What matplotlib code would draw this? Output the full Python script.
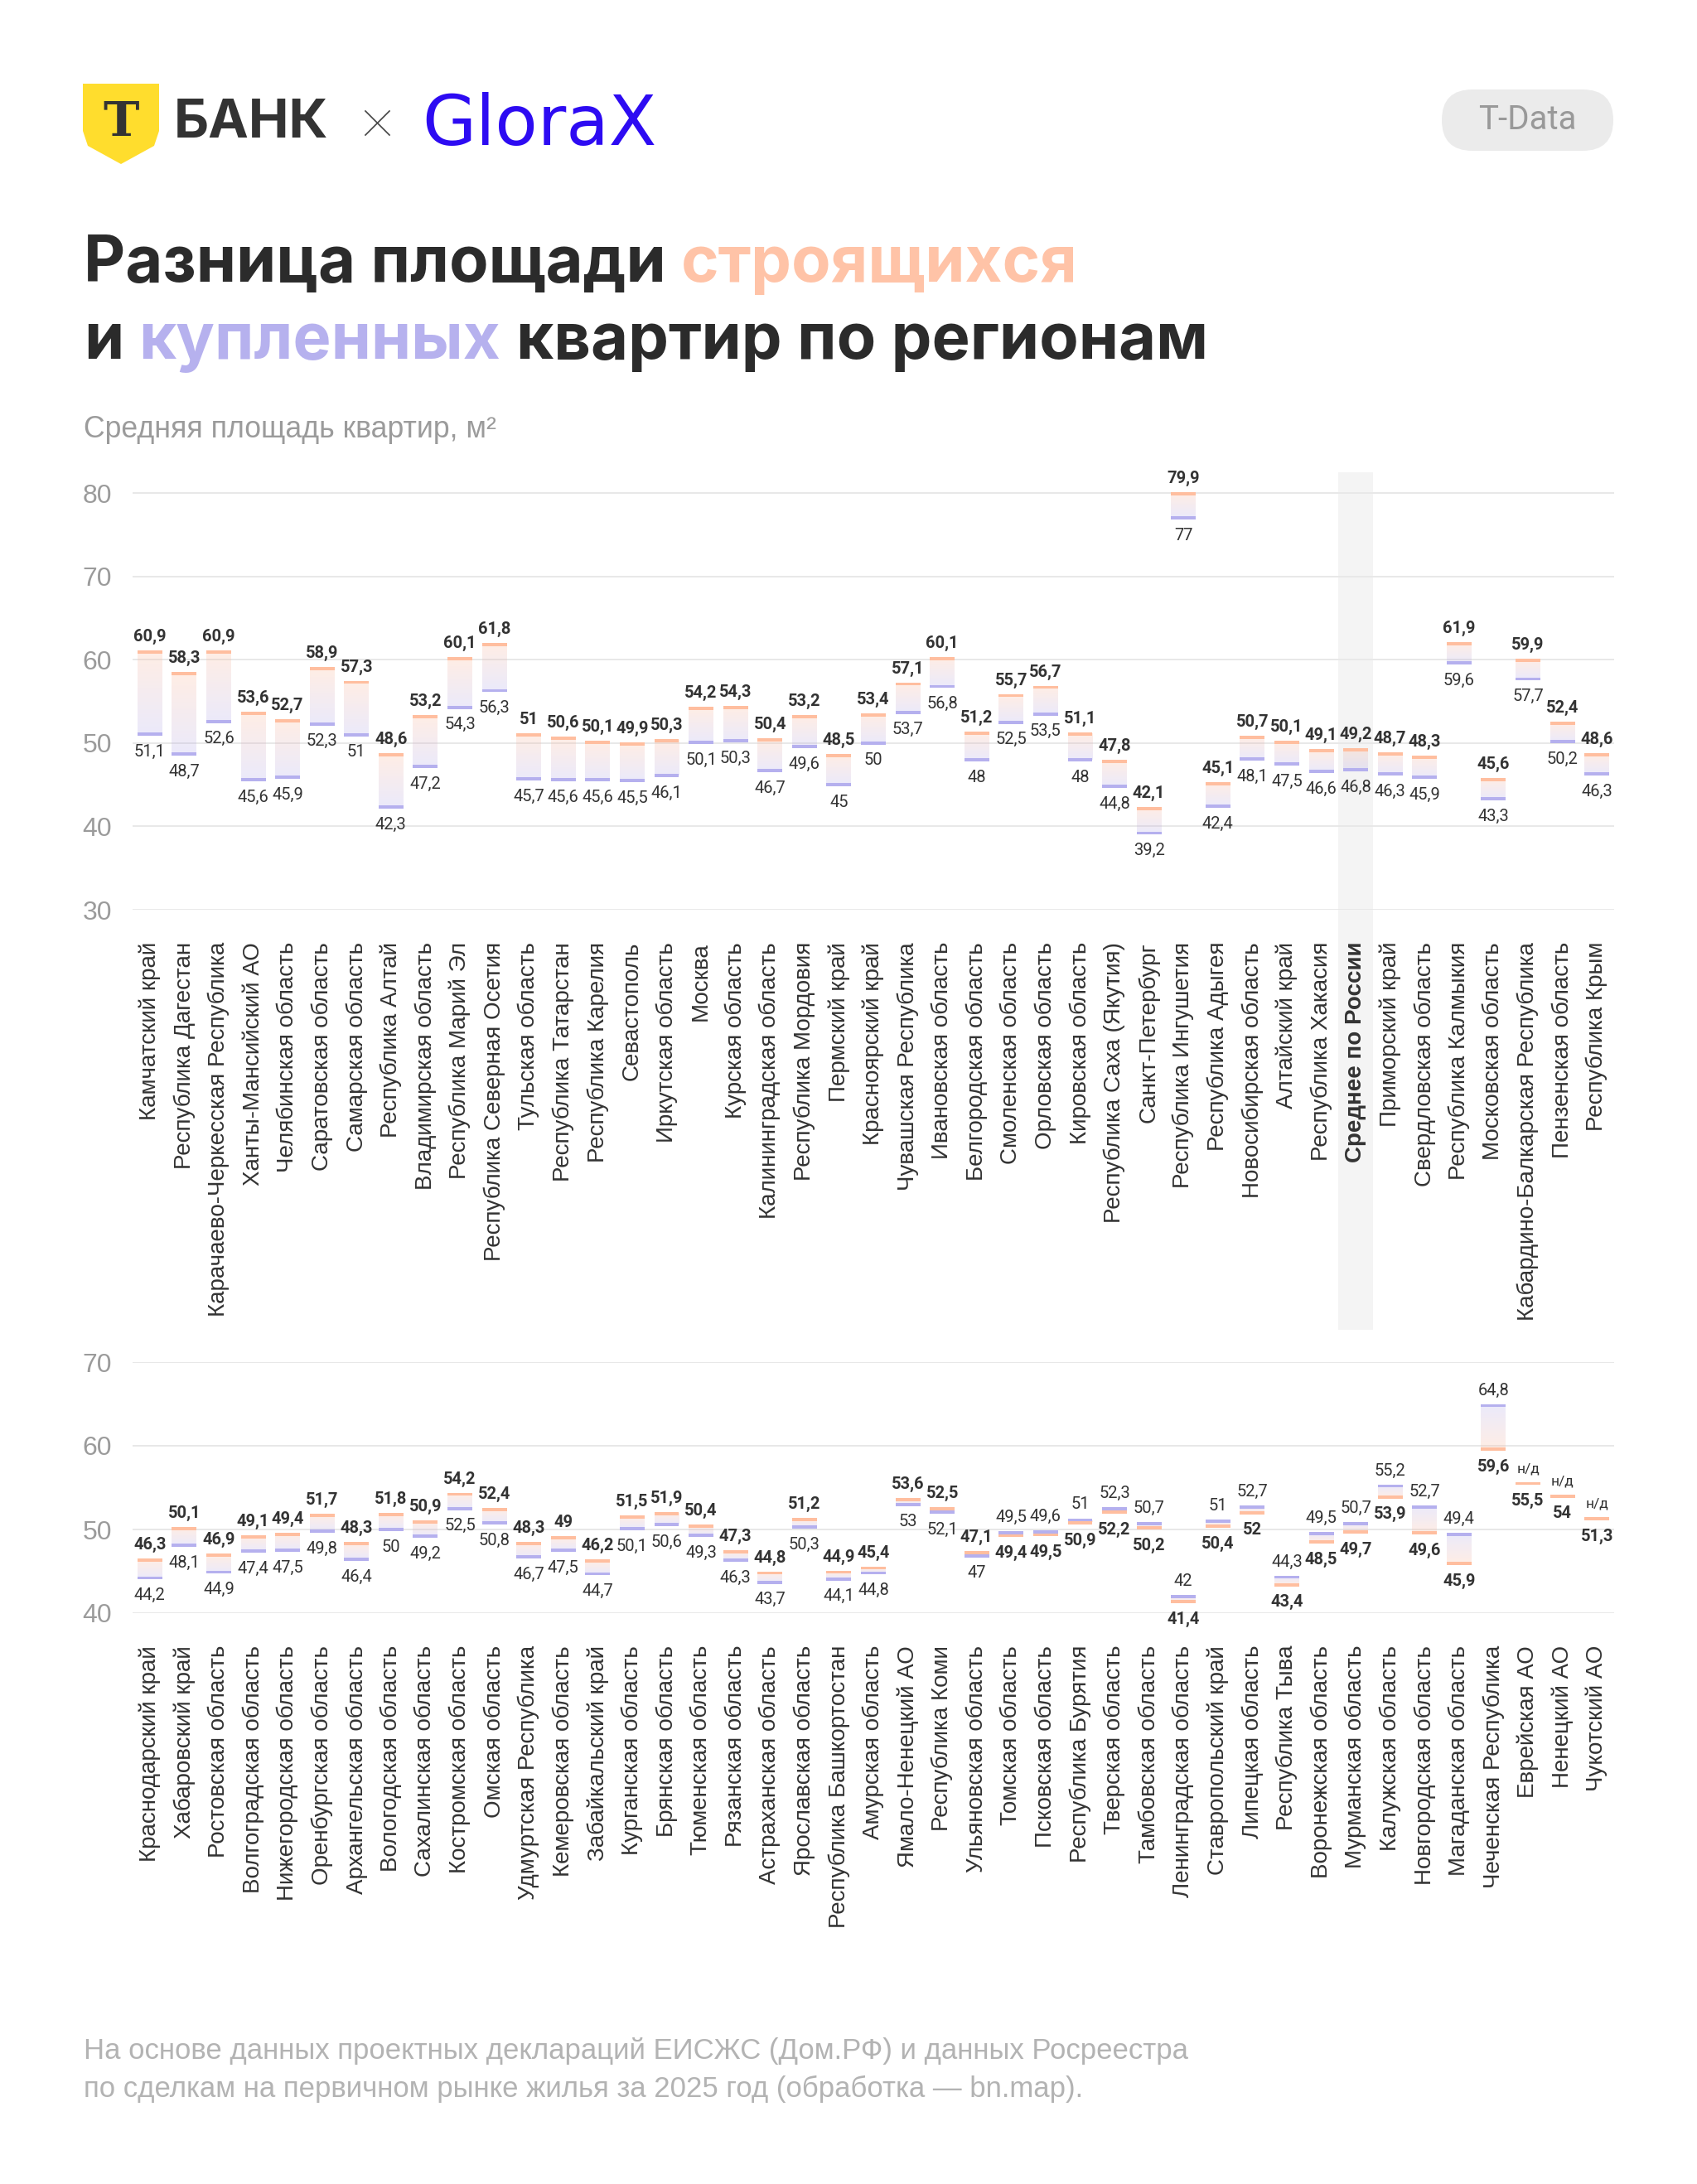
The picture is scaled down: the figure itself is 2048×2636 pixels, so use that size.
import numpy as np
import matplotlib
matplotlib.use("Agg")
import matplotlib.pyplot as plt
import matplotlib.colors as mcolors
import matplotlib.transforms as mtransforms
from matplotlib.patches import Rectangle, Polygon, FancyBboxPatch
from matplotlib.lines import Line2D

W, H, DPI = 2048, 2636, 100

top_regions = ["Камчатский край", "Республика Дагестан", "Карачаево-Черкесская Республика",
               "Ханты-Мансийский АО", "Челябинская область", "Саратовская область",
               "Самарская область", "Республика Алтай", "Владимирская область",
               "Республика Марий Эл", "Республика Северная Осетия", "Тульская область",
               "Республика Татарстан", "Республика Карелия", "Севастополь", "Иркутская область",
               "Москва", "Курская область", "Калининградская область", "Республика Мордовия",
               "Пермский край", "Красноярский край", "Чувашская Республика", "Ивановская область",
               "Белгородская область", "Смоленская область", "Орловская область",
               "Кировская область", "Республика Саха (Якутия)", "Санкт-Петербург",
               "Республика Ингушетия", "Республика Адыгея", "Новосибирская область",
               "Алтайский край", "Республика Хакасия", "Среднее по России", "Приморский край",
               "Свердловская область", "Республика Калмыкия", "Московская область",
               "Кабардино-Балкарская Республика", "Пензенская область", "Республика Крым"]
top_building = [60.9, 58.3, 60.9, 53.6, 52.7, 58.9, 57.3, 48.6, 53.2, 60.1, 61.8, 51, 50.6,
                50.1, 49.9, 50.3, 54.2, 54.3, 50.4, 53.2, 48.5, 53.4, 57.1, 60.1, 51.2, 55.7,
                56.7, 51.1, 47.8, 42.1, 79.9, 45.1, 50.7, 50.1, 49.1, 49.2, 48.7, 48.3, 61.9,
                45.6, 59.9, 52.4, 48.6]
top_bought = [51.1, 48.7, 52.6, 45.6, 45.9, 52.3, 51, 42.3, 47.2, 54.3, 56.3, 45.7, 45.6,
              45.6, 45.5, 46.1, 50.1, 50.3, 46.7, 49.6, 45, 50, 53.7, 56.8, 48, 52.5, 53.5,
              48, 44.8, 39.2, 77, 42.4, 48.1, 47.5, 46.6, 46.8, 46.3, 45.9, 59.6, 43.3, 57.7,
              50.2, 46.3]

bottom_regions = ["Краснодарский край", "Хабаровский край", "Ростовская область",
                  "Волгоградская область", "Нижегородская область", "Оренбургская область",
                  "Архангельская область", "Вологодская область", "Сахалинская область",
                  "Костромская область", "Омская область", "Удмуртская Республика",
                  "Кемеровская область", "Забайкальский край", "Курганская область",
                  "Брянская область", "Тюменская область", "Рязанская область",
                  "Астраханская область", "Ярославская область", "Республика Башкортостан",
                  "Амурская область", "Ямало-Ненецкий АО", "Республика Коми",
                  "Ульяновская область", "Томская область", "Псковская область",
                  "Республика Бурятия", "Тверская область", "Тамбовская область",
                  "Ленинградская область", "Ставропольский край", "Липецкая область",
                  "Республика Тыва", "Воронежская область", "Мурманская область",
                  "Калужская область", "Новгородская область", "Магаданская область",
                  "Чеченская Республика", "Еврейская АО", "Ненецкий АО", "Чукотский АО"]
bottom_building = [46.3, 50.1, 46.9, 49.1, 49.4, 51.7, 48.3, 51.8, 50.9, 54.2, 52.4, 48.3, 49,
                   46.2, 51.5, 51.9, 50.4, 47.3, 44.8, 51.2, 44.9, 45.4, 53.6, 52.5, 47.1, 49.4,
                   49.5, 50.9, 52.2, 50.2, 41.4, 50.4, 52, 43.4, 48.5, 49.7, 53.9, 49.6, 45.9,
                   59.6, 55.5, 54, 51.3]
bottom_bought = [44.2, 48.1, 44.9, 47.4, 47.5, 49.8, 46.4, 50, 49.2, 52.5, 50.8, 46.7, 47.5,
                 44.7, 50.1, 50.6, 49.3, 46.3, 43.7, 50.3, 44.1, 44.8, 53, 52.1, 47, 49.5,
                 49.6, 51, 52.3, 50.7, 42, 51, 52.7, 44.3, 49.5, 50.7, 55.2, 52.7, 49.4,
                 64.8, np.nan, np.nan, np.nan]

ORANGE = "#FFBE9F"
PURPLE = "#B5B0EE"
DARK = "#333333"
GREY = "#9B9B9B"
LABEL_FONT = "Liberation Sans"
NUM_FONT = "Roboto"
NUM_SIZE = 14.5

fig = plt.figure(figsize=(W / DPI, H / DPI), dpi=DPI)
fig.patch.set_facecolor("white")
# pixel coordinates with origin at the top-left corner
PX = mtransforms.Affine2D().scale(1, -1).translate(0, H).scale(1 / DPI) + fig.dpi_scale_trans


def fmt(v):
    return f"{v:g}".replace(".", ",")


def gradient(c_top, c_bot, n=64, alpha=0.27):
    a = np.array(mcolors.to_rgb(c_top))
    b = np.array(mcolors.to_rgb(c_bot))
    t = np.linspace(0, 1, n)[:, None]
    rgb = a * (1 - t) + b * t
    rgba = np.concatenate([rgb, np.full((n, 1), alpha)], axis=1)
    return rgba[:, None, :]


def add_axes_px(left, right, top, bottom):
    return fig.add_axes([left / W, 1 - bottom / H, (right - left) / W, (bottom - top) / H])


def draw_panel(ax, regions, building, bought, ylim, yticks):
    n = len(regions)
    w, cap = 0.72, 0.38
    for i in range(n):
        b, p = building[i], bought[i]
        if np.isnan(p):
            ax.add_patch(Rectangle((i - w / 2, b - cap / 2), w, cap, color=ORANGE, lw=0, zorder=3))
            ax.annotate("н/д", (i, b + cap / 2), xytext=(0, 8), textcoords="offset points",
                        ha="center", va="baseline", fontsize=12.5, color=DARK, family=NUM_FONT)
            ax.annotate(fmt(b), (i, b - cap / 2), xytext=(0, -7), textcoords="offset points",
                        ha="center", va="top", fontsize=NUM_SIZE, color=DARK, family=NUM_FONT,
                        fontweight="bold")
            continue
        hi, lo = max(b, p), min(b, p)
        up_col, lo_col = (ORANGE, PURPLE) if b >= p else (PURPLE, ORANGE)
        ax.imshow(gradient(up_col, lo_col), extent=(i - w / 2, i + w / 2, lo, hi),
                  aspect="auto", interpolation="bilinear", zorder=2)
        mid = (hi + lo) / 2
        up0 = max(hi - cap / 2, mid)
        lo1 = min(lo + cap / 2, mid)
        ax.add_patch(Rectangle((i - w / 2, up0), w, cap, color=up_col, lw=0, zorder=3))
        ax.add_patch(Rectangle((i - w / 2, lo1 - cap), w, cap, color=lo_col, lw=0, zorder=3))
        up_bold = b >= p
        ax.annotate(fmt(hi), (i, up0 + cap), xytext=(0, 8), textcoords="offset points",
                    ha="center", va="baseline", fontsize=NUM_SIZE, color=DARK, family=NUM_FONT,
                    fontweight="bold" if up_bold else "normal")
        ax.annotate(fmt(lo), (i, lo1 - cap), xytext=(0, -7), textcoords="offset points",
                    ha="center", va="top", fontsize=NUM_SIZE, color=DARK, family=NUM_FONT,
                    fontweight="normal" if up_bold else "bold")

    ax.set_facecolor("none")
    for s in ax.spines.values():
        s.set_visible(False)
    ax.set_yticks(yticks)
    ax.yaxis.grid(True, color="#E8E8E8", linewidth=1.4)
    ax.set_axisbelow(True)
    ax.tick_params(axis="y", length=0, pad=18, labelsize=23, labelcolor=GREY)
    for t in ax.get_yticklabels():
        t.set_family(LABEL_FONT)
    ax.set_xticks(np.arange(n))
    ax.set_xticklabels(regions, rotation=90, ha="center", va="top", fontsize=20,
                       color=DARK, family=LABEL_FONT)
    ax.tick_params(axis="x", length=0, pad=28)
    ax.set_xlim(-0.5, n - 0.5)
    ax.set_ylim(*ylim)


ax1 = add_axes_px(160, 1948, 572, 1098)
draw_panel(ax1, top_regions, top_building, top_bought, (30, 82.3), [30, 40, 50, 60, 70, 80])
avg_i = top_regions.index("Среднее по России")
ax1.get_xticklabels()[avg_i].set_fontweight("bold")
band = Rectangle((avg_i - 0.5, 1 - 1605 / H), 1, (1605 - 570) / H, facecolor="#F4F4F4",
                 lw=0, zorder=0.1, clip_on=False,
                 transform=mtransforms.blended_transform_factory(ax1.transData, fig.transFigure))
ax1.add_artist(band)

ax2 = add_axes_px(160, 1948, 1644, 1947)
draw_panel(ax2, bottom_regions, bottom_building, bottom_bought, (40, 70), [40, 50, 60, 70])

# --- header ---
shield = Polygon([(100, 101), (192, 101), (192, 158), (186, 176), (146, 198), (106, 176),
                  (100, 158)], closed=True, facecolor="#FFDD2D", lw=0, transform=PX)
fig.add_artist(shield)
fig.text(146, 148, "Т", transform=PX, ha="center", va="center", fontsize=42,
         family="DejaVu Serif", fontweight="bold", color=DARK)
fig.text(210, 166, "БАНК", transform=PX, ha="left", va="baseline", fontsize=47,
         family="Inter", fontweight="bold", color=DARK)
fig.add_artist(Line2D([441, 470], [134, 163], transform=PX, color="#444444", lw=1.2))
fig.add_artist(Line2D([441, 470], [163, 134], transform=PX, color="#444444", lw=1.2))
fig.text(509, 175, "GloraX", transform=PX, ha="left", va="baseline", fontsize=60.5,
         family="DejaVu Sans", color="#2D0BF2")

pill = FancyBboxPatch((1740 / DPI, (H - 182) / DPI), 207 / DPI, 74 / DPI,
                      boxstyle="round,pad=0,rounding_size=0.37", facecolor="#EBEBEB", lw=0,
                      transform=fig.dpi_scale_trans)
fig.add_artist(pill)
fig.text(1843, 145, "T-Data", transform=PX, ha="center", va="center", fontsize=29,
         family="Roboto", color="#999999")

# --- title in several colours ---
renderer = fig.canvas.get_renderer()
title_kw = dict(fontsize=55.8, family="Inter", fontweight="bold", transform=PX, va="baseline")
probe1 = fig.text(0, 0, "нн", **title_kw)
probe2 = fig.text(0, 0, "н н", **title_kw)
space = probe2.get_window_extent(renderer).width - probe1.get_window_extent(renderer).width
probe1.remove()
probe2.remove()


def rich_line(x, y, pieces):
    for txt, col in pieces:
        t = fig.text(x, y, txt, color=col, ha="left", **title_kw)
        x = t.get_window_extent(renderer).x1 * (W / fig.bbox.width) + space


rich_line(101, 340, [("Разница площади", "#2B2B2B"), ("строящихся", "#FFC3A7")])
rich_line(101, 433, [("и", "#2B2B2B"), ("купленных", "#B6B1EE"),
                     ("квартир по регионам", "#2B2B2B")])

fig.text(101, 518, "Средняя площадь квартир, м²", transform=PX, ha="left", va="center",
         fontsize=25.7, family=LABEL_FONT, color=GREY)

fig.text(101, 2476, "На основе данных проектных деклараций ЕИСЖС (Дом.РФ) и данных Росреестра",
         transform=PX, ha="left", va="center", fontsize=25, family=LABEL_FONT, color="#B3B3B3")
fig.text(101, 2521, "по сделкам на первичном рынке жилья за 2025 год (обработка — bn.map).",
         transform=PX, ha="left", va="center", fontsize=25, family=LABEL_FONT, color="#B3B3B3")

fig.savefig("out.png", dpi=DPI)
